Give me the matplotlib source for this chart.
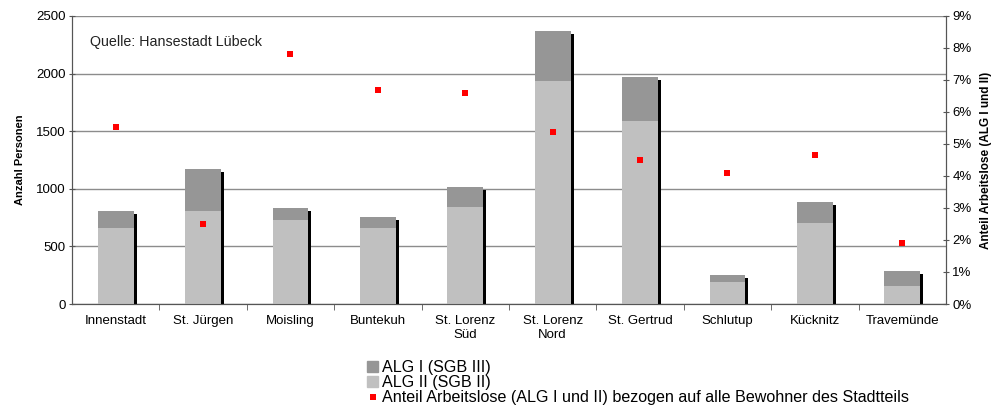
import matplotlib
matplotlib.use('Agg')
import numpy as np
import matplotlib.pyplot as plt
import matplotlib.patches as patches
import matplotlib.patheffects as pe
from matplotlib.lines import Line2D
from matplotlib.ticker import FuncFormatter

plt.rcParams['font.family'] = ['Liberation Sans', 'DejaVu Sans']

# data
stadtteile = ['Innenstadt', 'St. Jürgen', 'Moisling', 'Buntekuh', 'St. Lorenz\nSüd',
              'St. Lorenz\nNord', 'St. Gertrud', 'Schlutup', 'Kücknitz', 'Travemünde']
alg2 = [660, 810, 729, 660, 842, 1938, 1589, 191, 706, 156]
alg1 = [150, 362, 104, 95, 174, 432, 381, 61, 179, 130]
anteil = [5.54, 2.51, 7.81, 6.70, 6.59, 5.37, 4.51, 4.10, 4.67, 1.92]

c_alg1 = '#969696'
c_alg2 = '#c0c0c0'
c_axis = '#555555'

fig = plt.figure(figsize=(9.97, 4.08), dpi=100)
ax = fig.add_axes([0.0722, 0.2549, 0.8766, 0.7059])
ax2 = ax.twinx()

x = np.arange(len(stadtteile))
total = np.array(alg1) + np.array(alg2)
w = 0.41

# total bar (drawn in ALG I colour) with black drop shadow, ALG II on top
ax.bar(x, total, width=w, color=c_alg1, zorder=3,
       path_effects=[pe.SimplePatchShadow(offset=(2.2, -2.2), shadow_rgbFace='black', alpha=1.0),
                     pe.Normal()])
ax.bar(x, alg2, width=w, color=c_alg2, zorder=4)

ax2.plot(x, anteil, linestyle='none', marker='s', markersize=5, color='#ff0000',
         markeredgewidth=0, zorder=5)

ax.set_xlim(-0.5, len(stadtteile) - 0.5)
ax.set_ylim(0, 2500)
ax.set_yticks(np.arange(0, 2501, 500))
ax.yaxis.grid(True, color='#8c8c8c', linewidth=1)
ax.set_axisbelow(True)
ax2.set_ylim(0, 9)
ax2.set_yticks(np.arange(0, 10, 1))
ax2.yaxis.set_major_formatter(FuncFormatter(lambda v, p: '{:d}%'.format(int(round(v)))))

ax.set_xticks(x)
ax.set_xticklabels(stadtteile, fontsize=9.5)
ax.tick_params(axis='x', which='major', length=0, pad=8)
# tick marks between the districts
ax.set_xticks(np.arange(0.5, len(stadtteile) - 1, 1), minor=True)
ax.tick_params(axis='x', which='minor', length=4, color=c_axis, direction='out')
ax.tick_params(axis='y', length=5, color=c_axis, labelsize=9.5, pad=2, direction='inout')
ax2.tick_params(axis='y', length=5, color=c_axis, labelsize=9.5, pad=2, direction='inout')

for a in (ax, ax2):
    a.spines['top'].set_visible(False)
    for s in ('left', 'right', 'bottom'):
        a.spines[s].set_color(c_axis)

ax.set_ylabel('Anzahl Personen', fontsize=8, fontweight='bold', labelpad=8)
ax2.set_ylabel('Anteil Arbeitslose (ALG I und II)', fontsize=8.5, fontweight='bold',
               rotation=90, labelpad=6)

ax.text(0.021, 0.895, 'Quelle: Hansestadt Lübeck', transform=ax.transAxes,
        fontsize=10.3, color='#222222')

handles = [patches.Patch(color=c_alg1),
           patches.Patch(color=c_alg2),
           Line2D([], [], linestyle='none', marker='s', markersize=4.5, color='#ff0000',
                  markeredgewidth=0)]
labels = ['ALG I (SGB III)', 'ALG II (SGB II)',
          'Anteil Arbeitslose (ALG I und II) bezogen auf alle Bewohner des Stadtteils']
fig.legend(handles, labels, loc='center left', bbox_to_anchor=(0.368, 0.062),
           frameon=False, fontsize=11.6, borderpad=0, borderaxespad=0,
           handlelength=0.72, handleheight=0.72, handletextpad=0.22, labelspacing=0.0)

fig.savefig('out.png', dpi=100)
